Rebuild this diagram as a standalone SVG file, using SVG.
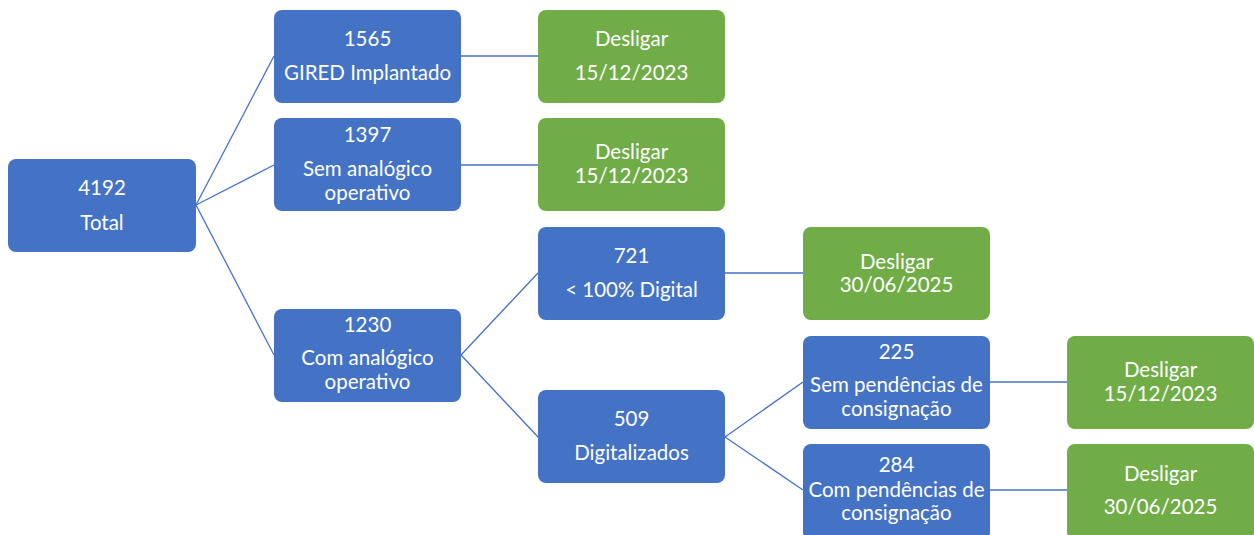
<svg xmlns="http://www.w3.org/2000/svg" width="1254" height="535" viewBox="0 0 1254 535">
<style>
.b{fill:#4472C4}
.g{fill:#70AD47}
text{font-family:Lato,"Open Sans","Liberation Sans",sans-serif;font-size:20.5px;fill:#FFFFFF;text-anchor:middle}
.c line{stroke:#4472C4;stroke-width:1.3}
</style>
<rect width="1254" height="535" fill="#FFFFFF"/>
<g class="c" id="connectors">
<line x1="196" y1="205" x2="274" y2="56"/>
<line x1="196" y1="205" x2="274" y2="165"/>
<line x1="196" y1="205" x2="274" y2="355"/>
<line x1="461" y1="56" x2="538" y2="56"/>
<line x1="461" y1="165" x2="538" y2="165"/>
<line x1="461" y1="355" x2="538" y2="273"/>
<line x1="461" y1="355" x2="538" y2="437"/>
<line x1="725" y1="273" x2="803" y2="273"/>
<line x1="725" y1="437" x2="803" y2="382"/>
<line x1="725" y1="437" x2="803" y2="490"/>
<line x1="989" y1="382" x2="1067" y2="382"/>
<line x1="989" y1="490" x2="1067" y2="490"/>
</g>
<g id="n4192"><rect class="b" x="8" y="159" width="188" height="93" rx="8"/><text x="102" y="195">4192</text><text x="102" y="230">Total</text></g>
<g id="n1565"><rect class="b" x="274" y="10" width="187" height="93" rx="8"/><text x="367.5" y="46">1565</text><text x="367.5" y="80">GIRED Implantado</text></g>
<g id="n1397"><rect class="b" x="274" y="118" width="187" height="93" rx="8"/><text x="367.5" y="142">1397</text><text x="367.5" y="176">Sem analógico</text><text x="367.5" y="200">operativo</text></g>
<g id="n1230"><rect class="b" x="274" y="309" width="187" height="93" rx="8"/><text x="367.5" y="332">1230</text><text x="367.5" y="365">Com analógico</text><text x="367.5" y="389">operativo</text></g>
<g id="g1"><rect class="g" x="538" y="10" width="187" height="93" rx="8"/><text x="631.5" y="46">Desligar</text><text x="631.5" y="80">15/12/2023</text></g>
<g id="g2"><rect class="g" x="538" y="118" width="187" height="93" rx="8"/><text x="631.5" y="159">Desligar</text><text x="631.5" y="183">15/12/2023</text></g>
<g id="n721"><rect class="b" x="538" y="227" width="187" height="93" rx="8"/><text x="631.5" y="263">721</text><text x="631.5" y="297">&lt; 100% Digital</text></g>
<g id="n509"><rect class="b" x="538" y="390" width="187" height="93" rx="8"/><text x="631.5" y="426">509</text><text x="631.5" y="460">Digitalizados</text></g>
<g id="g3"><rect class="g" x="803" y="227" width="187" height="93" rx="8"/><text x="896.5" y="269">Desligar</text><text x="896.5" y="292">30/06/2025</text></g>
<g id="n225"><rect class="b" x="803" y="336" width="187" height="93" rx="8"/><text x="896.5" y="359">225</text><text x="896.5" y="392">Sem pendências de</text><text x="896.5" y="416">consignação</text></g>
<g id="n284"><rect class="b" x="803" y="444" width="187" height="96" rx="8"/><text x="896.5" y="472">284</text><text x="896.5" y="497">Com pendências de</text><text x="896.5" y="520">consignação</text></g>
<g id="g4"><rect class="g" x="1067" y="336" width="187" height="93" rx="8"/><text x="1160.5" y="377">Desligar</text><text x="1160.5" y="401">15/12/2023</text></g>
<g id="g5"><rect class="g" x="1067" y="444" width="187" height="96" rx="8"/><text x="1160.5" y="481">Desligar</text><text x="1160.5" y="514">30/06/2025</text></g>
</svg>
